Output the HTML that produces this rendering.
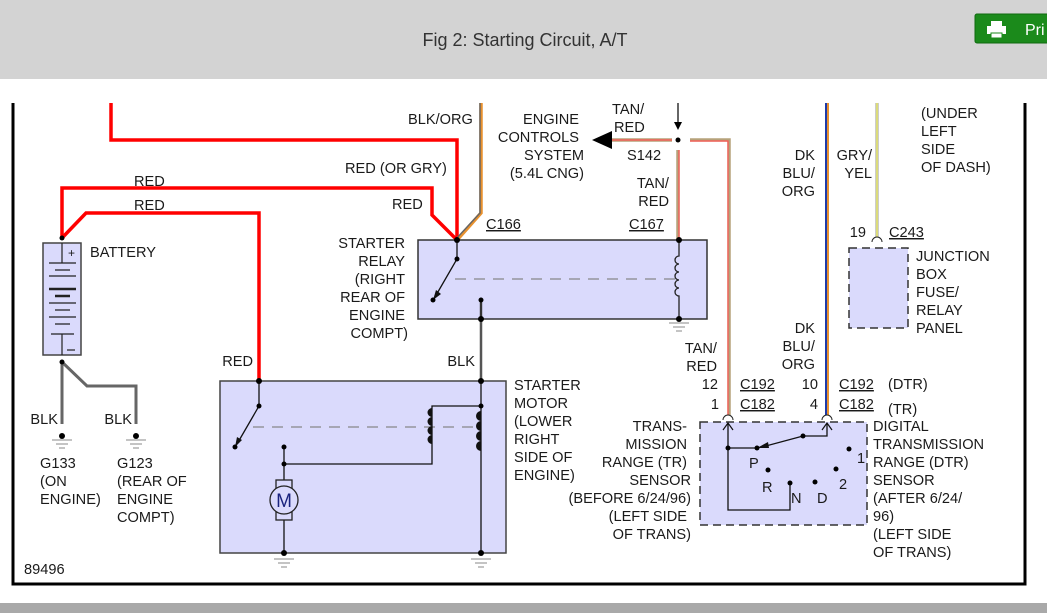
<!DOCTYPE html>
<html><head><meta charset="utf-8"><style>
html,body{margin:0;padding:0;width:1047px;height:613px;overflow:hidden;background:#fff}
svg{display:block}
text{font-family:"Liberation Sans",sans-serif;font-size:14.6px;fill:#1a1a1a}
</style></head><body>
<svg width="1047" height="613" viewBox="0 0 1047 613" xmlns="http://www.w3.org/2000/svg">
<rect x="0" y="0" width="1047" height="79" fill="#d3d3d3"/>
<text x="525" y="46" text-anchor="middle" style="font-size:18px;fill:#333">Fig 2: Starting Circuit, A/T</text>
<rect x="975" y="14" width="80" height="29" rx="2" fill="#1b8a1b" stroke="#0f6a0f"/>
<rect x="991" y="21" width="11" height="5" fill="#fff"/><rect x="987" y="26" width="19" height="8" fill="#fff"/><rect x="991" y="33" width="11" height="5" fill="#fff" stroke="#1b8a1b"/>
<text x="1025" y="35" style="font-size:16px;fill:#fff">Pri</text>
<rect x="0" y="603" width="1047" height="10" fill="#a9a9a9"/>
<path d="M13 103V584H1025V103" fill="none" stroke="#000" stroke-width="3"/>
<g fill="none" stroke="#f00" stroke-width="3.5">
<path d="M111 103V140H457V240"/>
<path d="M62 238V188H432V215L457 240"/>
<path d="M62 238L86 213H259V381"/>
</g>
<path d="M481 103V213L457 240" fill="none" stroke="#e8912e" stroke-width="3.5"/>
<path d="M480 103V213L456 239" fill="none" stroke="#666" stroke-width="1.5"/>
<g fill="none" stroke="#b5a27a" stroke-width="3.5">
<path d="M605 140H672"/><path d="M678 150V240"/><path d="M690 140H729V415"/>
</g>
<g fill="none" stroke="#f55" stroke-width="1.2">
<path d="M605 140H672"/><path d="M679 150V240"/><path d="M690 141H728V415"/>
</g>
<path d="M592 140L612 131V149Z" fill="#000"/>
<path d="M678 103V128" stroke="#333" stroke-width="1.5"/><path d="M674 122L678 130L682 122Z" fill="#000"/>
<circle cx="678" cy="140" r="2.5" fill="#000"/>
<path d="M827 103V415" stroke="#e8912e" stroke-width="4"/><path d="M826 103V415" stroke="#1d3aa8" stroke-width="2"/>
<path d="M877 103V237" stroke="#ccc" stroke-width="4"/><path d="M877 103V237" stroke="#e0e060" stroke-width="1.5"/>
<path d="M62 362V424M62 362L87 386H136V424" fill="none" stroke="#666" stroke-width="3"/>
<rect x="43" y="243" width="38" height="112" fill="#dadafc" stroke="#444" stroke-width="1.5"/>
<path d="M62 243V263M62 334V355" stroke="#222" stroke-width="1.2"/>
<g stroke="#222" stroke-width="1.2">
<path d="M49 263H76M55 270H70M49 276H76M49 289H76M55 296H70M49 303H76M55 310H70M49 317H76M55 324H70M51 334H74"/>
<path d="M49 289H76M55 296H70" stroke-width="2.5"/>
</g>
<text x="68" y="257" style="font-size:12px">+</text>
<path d="M67 350H75" stroke="#222" stroke-width="1.2"/>
<circle cx="62" cy="238" r="2.5" fill="#000"/><circle cx="62" cy="362" r="2.5" fill="#000"/>
<g stroke="#888" stroke-width="1">
<path d="M52 440H72M56 444H68M59 448H65M126 440H146M130 444H142M133 448H139"/>
<path d="M669 323H689M673 327H685M676 331H682"/>
<path d="M274 559H294M278 563H290M281 567H287M471 559H491M475 563H487M478 567H484"/>
</g>
<circle cx="62" cy="436" r="3" fill="#000"/><circle cx="136" cy="436" r="3" fill="#000"/>
<rect x="418" y="240" width="289" height="79" fill="#dadafc" stroke="#333" stroke-width="1.5"/>
<path d="M457 240V259L435 297" fill="none" stroke="#111" stroke-width="1.3"/>
<path d="M433 300L436 290L441 294Z" fill="#111"/>
<path d="M455 279H677" stroke="#888" stroke-dasharray="11 8" stroke-width="1.3"/>
<path d="M481 300V380" stroke="#555" stroke-width="2.5"/><path d="M481 300V319" stroke="#222" stroke-width="1.3"/>
<path d="M679 240V256 a4 4 0 0 0 0 8 a4 4 0 0 0 0 8 a4 4 0 0 0 0 8 a4 4 0 0 0 0 8 a4 4 0 0 0 0 8V319" fill="none" stroke="#222" stroke-width="1.3"/>
<g fill="#000"><circle cx="457" cy="240" r="3"/><circle cx="457" cy="259" r="2.5"/><circle cx="433" cy="300" r="2.5"/><circle cx="481" cy="300" r="2.5"/><circle cx="481" cy="319" r="3"/><circle cx="679" cy="240" r="3"/><circle cx="679" cy="319" r="3"/></g>
<rect x="220" y="381" width="286" height="172" fill="#dadafc" stroke="#444" stroke-width="1.5"/>
<path d="M259 381V406L237 444" fill="none" stroke="#111" stroke-width="1.3"/>
<path d="M235 447L237 437L242 440Z" fill="#111"/>
<path d="M253 427H478" stroke="#888" stroke-dasharray="11 8" stroke-width="1.3"/>
<path d="M481 381V553M481 406H432V464H284M284 447V480M284 520V553" fill="none" stroke="#111" stroke-width="1.3"/>
<g fill="#111"><path d="M432 408 a4.5 4.5 0 0 0 0 9Z M432 417 a4.5 4.5 0 0 0 0 9Z M432 426 a4.5 4.5 0 0 0 0 9Z M432 435 a4.5 4.5 0 0 0 0 9Z"/>
<path d="M481 411 a4.5 4.5 0 0 0 0 10Z M481 421 a4.5 4.5 0 0 0 0 10Z M481 431 a4.5 4.5 0 0 0 0 10Z M481 441 a4.5 4.5 0 0 0 0 10Z"/></g>
<rect x="276" y="480" width="16" height="40" fill="none" stroke="#222" stroke-width="1.3"/>
<circle cx="284" cy="500" r="14" fill="#dadafc" stroke="#222" stroke-width="1.3"/>
<text x="284" y="507" text-anchor="middle" style="font-size:19px;fill:#1a237e">M</text>
<g fill="#000"><circle cx="259" cy="381" r="3"/><circle cx="259" cy="406" r="2.5"/><circle cx="235" cy="447" r="2.5"/><circle cx="481" cy="381" r="3"/><circle cx="481" cy="406" r="2.5"/><circle cx="284" cy="447" r="2.5"/><circle cx="284" cy="464" r="2.5"/><circle cx="284" cy="553" r="3"/><circle cx="481" cy="553" r="3"/></g>
<rect x="700" y="422" width="167" height="103" fill="#dadafc" stroke="#333" stroke-width="1.5" stroke-dasharray="8 5"/>
<path d="M723 420a5 5 0 0 1 10 0M822 420a5 5 0 0 1 10 0" fill="none" stroke="#222"/>
<path d="M728 423V510H790V483M728 448H757M827 423V436H803L762 447" fill="none" stroke="#111" stroke-width="1.3"/>
<path d="M723 430L728 423L733 430M822 430L827 423L832 430" fill="none" stroke="#111" stroke-width="1.2"/>
<path d="M757 448L768 442L769 448Z" fill="#111"/>
<g fill="#000"><circle cx="728" cy="448" r="2.5"/><circle cx="757" cy="448" r="2.5"/><circle cx="803" cy="436" r="2.5"/><circle cx="768" cy="470" r="2.5"/><circle cx="790" cy="483" r="2.5"/><circle cx="815" cy="482" r="2.5"/><circle cx="836" cy="469" r="2.5"/><circle cx="849" cy="449" r="2.5"/></g>
<path d="M872 242a5 5 0 0 1 10 0" fill="none" stroke="#222"/>
<rect x="849" y="248" width="59" height="80" fill="#dadafc" stroke="#333" stroke-width="1.5" stroke-dasharray="8 5"/>
<text x="134" y="186">RED</text><text x="134" y="210">RED</text>
<text x="90" y="257">BATTERY</text>
<text x="345" y="173">RED (OR GRY)</text>
<text x="392" y="209">RED</text>
<text x="408" y="124">BLK/ORG</text>
<text x="486" y="229" text-decoration="underline">C166</text>
<text x="629" y="229" text-decoration="underline">C167</text>
<g text-anchor="end">
<text x="405" y="248">STARTER</text><text x="405" y="266">RELAY</text><text x="405" y="284">(RIGHT</text><text x="405" y="302">REAR OF</text><text x="405" y="320">ENGINE</text><text x="408" y="338">COMPT)</text>
<text x="579" y="124">ENGINE</text><text x="579" y="142">CONTROLS</text><text x="584" y="160">SYSTEM</text><text x="584" y="178">(5.4L CNG)</text>
<text x="669" y="188">TAN/</text><text x="669" y="206">RED</text>
<text x="717" y="353">TAN/</text><text x="717" y="371">RED</text><text x="718" y="389">12</text><text x="719" y="409">1</text>
<text x="815" y="160">DK</text><text x="815" y="178">BLU/</text><text x="815" y="196">ORG</text>
<text x="815" y="333">DK</text><text x="815" y="351">BLU/</text><text x="815" y="369">ORG</text><text x="818" y="389">10</text><text x="818" y="409">4</text>
<text x="872" y="160">GRY/</text><text x="872" y="178">YEL</text><text x="866" y="237">19</text>
<text x="687" y="431">TRANS-</text><text x="687" y="449">MISSION</text><text x="687" y="467">RANGE (TR)</text><text x="691" y="485">SENSOR</text><text x="691" y="503">(BEFORE 6/24/96)</text><text x="687" y="521">(LEFT SIDE</text><text x="691" y="539">OF TRANS)</text>
<text x="253" y="366">RED</text><text x="475" y="366">BLK</text>
<text x="58" y="424">BLK</text><text x="132" y="424">BLK</text>
</g>
<text x="612" y="114">TAN/</text><text x="614" y="132">RED</text><text x="627" y="160">S142</text>
<text x="740" y="389" text-decoration="underline">C192</text><text x="740" y="409" text-decoration="underline">C182</text>
<text x="839" y="389" text-decoration="underline">C192</text><text x="839" y="409" text-decoration="underline">C182</text>
<text x="888" y="389">(DTR)</text><text x="888" y="414">(TR)</text>
<text x="873" y="431">DIGITAL</text><text x="873" y="449">TRANSMISSION</text><text x="873" y="467">RANGE (DTR)</text><text x="873" y="485">SENSOR</text><text x="873" y="503">(AFTER 6/24/</text><text x="873" y="521">96)</text><text x="873" y="539">(LEFT SIDE</text><text x="873" y="557">OF TRANS)</text>
<text x="889" y="237" text-decoration="underline">C243</text>
<text x="921" y="118">(UNDER</text><text x="921" y="136">LEFT</text><text x="921" y="154">SIDE</text><text x="921" y="172">OF DASH)</text>
<text x="916" y="261">JUNCTION</text><text x="916" y="279">BOX</text><text x="916" y="297">FUSE/</text><text x="916" y="315">RELAY</text><text x="916" y="333">PANEL</text>
<text x="514" y="390">STARTER</text><text x="514" y="408">MOTOR</text><text x="514" y="426">(LOWER</text><text x="514" y="444">RIGHT</text><text x="514" y="462">SIDE OF</text><text x="514" y="480">ENGINE)</text>
<text x="40" y="468">G133</text><text x="40" y="486">(ON</text><text x="40" y="504">ENGINE)</text>
<text x="117" y="468">G123</text><text x="117" y="486">(REAR OF</text><text x="117" y="504">ENGINE</text><text x="117" y="522">COMPT)</text>
<text x="24" y="574">89496</text>
<g style="fill:#5a1010">
<text x="749" y="468">P</text><text x="762" y="492">R</text><text x="791" y="503">N</text><text x="817" y="503">D</text><text x="857" y="463">1</text><text x="839" y="489">2</text>
</g>
</svg>
</body></html>
